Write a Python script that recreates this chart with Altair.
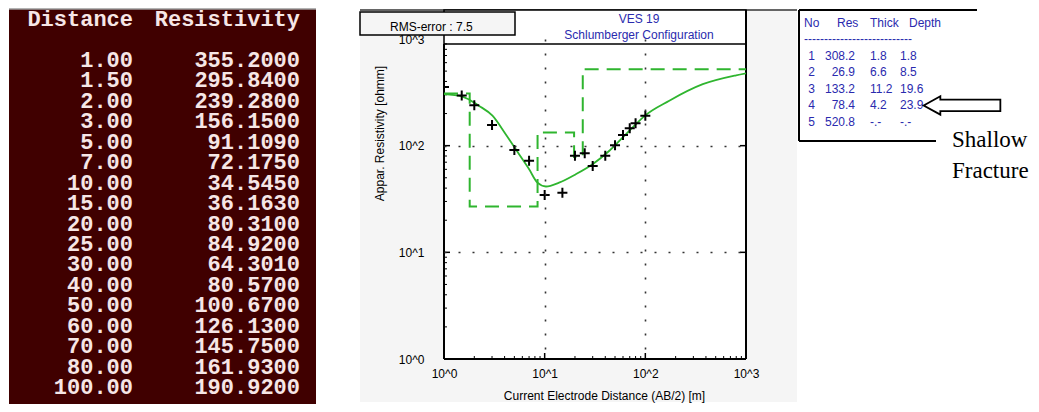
import altair as alt
import pandas as pd

# ---------------- data ----------------
distance = [1.0, 1.5, 2.0, 3.0, 5.0, 7.0, 10.0, 15.0, 20.0, 25.0, 30.0, 40.0,
            50.0, 60.0, 70.0, 80.0, 100.0]
resistivity = [355.2, 295.84, 239.28, 156.15, 91.109, 72.175, 34.545, 36.163,
               80.31, 84.92, 64.301, 80.57, 100.67, 126.13, 145.75, 161.93, 190.92]

# fitted model curve
curve_x = [1.0, 1.52, 2.23, 3.03, 4.10, 5.57, 7.01, 8.48, 10.3, 13.9, 20.4, 29.9,
           43.9, 59.4, 80.7, 98.4, 173, 372, 797, 1000]
curve_y = [304, 289, 236, 191, 128, 83, 60, 45, 41.4, 45, 54, 67,
           89.6, 119, 159, 190, 264, 377, 457, 477]

# layered model
layer_no = [1, 2, 3, 4, 5]
layer_res = [308.2, 26.9, 133.2, 78.4, 520.8]
layer_thick = ["1.8", "6.6", "11.2", "4.2", "-.-"]
layer_depth = ["1.8", "8.5", "19.6", "23.9", "-.-"]
layer_depth_val = [1.8, 8.5, 19.6, 23.9]
fracture_layer = 4

rms_error = 7.5
axis_min, axis_max = 1, 1000
decades = [1, 10, 100, 1000]
inner_decades = [10, 100]
minor_ticks = [2, 3, 4, 5, 6, 7, 8, 9,
               20, 30, 40, 50, 60, 70, 80, 90,
               200, 300, 400, 500, 600, 700, 800, 900]

GREEN = "#2FB52F"
BLUE = "#2A2AAE"
SANS = "Liberation Sans"
T = -29  # top of the panels, relative to the plot area's top

one = pd.DataFrame({"k": [0]})

# ---------------- panel A : console table ----------------
n = len(distance)
tab = pd.DataFrame({
    "row": list(range(n)) * 2 + [-2, -2],
    "col": [0] * n + [1] * n + [0, 1],
    "txt": [f"{d:.2f}" for d in distance] + [f"{r:.4f}" for r in resistivity]
           + ["Distance", "Resistivity"],
})
a_bg = alt.Chart(one).mark_rect(fill="#400000").encode(
    x=alt.value(0), x2=alt.value(307), y=alt.value(T - 1), y2=alt.value(365))
a_top = alt.Chart(one).mark_rule(color="#9A9A9A", strokeWidth=1.5).encode(
    x=alt.value(0), x2=alt.value(307), y=alt.value(T - 1))
a_txt = alt.Chart(tab).mark_text(
    font="Liberation Mono", fontSize=22, fontWeight="bold", fill="#F6E6E6",
    align="right", baseline="middle").encode(
    x=alt.X("col:Q", scale=alt.Scale(domain=[0, 1], range=[124, 291]), axis=None),
    y=alt.Y("row:Q", scale=alt.Scale(domain=[0, 16], range=[21, 348]), axis=None),
    text="txt:N")
A = alt.layer(a_bg, a_top, a_txt).properties(width=350, height=320)

# ---------------- panel B : sounding curve ----------------
W, H = 302, 320
xs = alt.Scale(type="log", domain=[axis_min, axis_max], nice=False)
ys = alt.Scale(type="log", domain=[axis_min, axis_max], nice=False)
lab = "'10^' + round(log(datum.value) / LN10)"
grid_op = {"condition": {"test": "datum.value == 1 || datum.value == 1000", "value": 0}, "value": 1}
xaxis = alt.Axis(values=decades, labelExpr=lab, grid=True, gridDash=[2, 12],
                 gridColor="#333333", gridWidth=1.6, gridOpacity=grid_op,
                 ticks=False, domain=False,
                 labelFont=SANS, labelFontSize=12, labelColor="#000000",
                 labelPadding=9, labelFlush=False, labelOverlap=False,
                 title="Current Electrode Distance (AB/2) [m]", titleFont=SANS,
                 titleFontSize=12, titleFontWeight="normal", titleColor="#000000",
                 titleX=160, titleY=36, titleAlign="center", titleBaseline="middle",
                 zindex=1)
yaxis = alt.Axis(values=decades, labelExpr=lab, grid=True, gridDash=[2, 12],
                 gridColor="#333333", gridWidth=1.6, gridOpacity=grid_op,
                 ticks=False, domain=False,
                 labelFont=SANS, labelFontSize=12, labelColor="#000000",
                 labelPadding=20, labelOverlap=False,
                 title="Appar. Resistivity [ohmm]", titleFont=SANS,
                 titleFontSize=12, titleFontWeight="normal", titleColor="#000000",
                 titleX=-65, titleY=94, titleAngle=270, titleAlign="center",
                 titleBaseline="middle", zindex=1)

d = alt.Chart(one)
gray = d.mark_rect(fill="#F5F5F5").encode(
    x=alt.value(-84), x2=alt.value(353), y=alt.value(T), y2=alt.value(363))
white = d.mark_rect(fill="white").encode(
    x=alt.value(0), x2=alt.value(W), y=alt.value(0), y2=alt.value(H))
titlebox = d.mark_rect(fill="white", stroke="black", strokeWidth=1.5).encode(
    x=alt.value(0), x2=alt.value(W), y=alt.value(T), y2=alt.value(5))
toprule = d.mark_rule(color="#333333", strokeWidth=1.5).encode(
    x=alt.value(-84), x2=alt.value(353), y=alt.value(T))
left = d.mark_rule(color="black", strokeWidth=2).encode(
    x=alt.value(0), y=alt.value(5), y2=alt.value(H))
right = d.mark_rule(color="black", strokeWidth=2).encode(
    x=alt.value(W), y=alt.value(T), y2=alt.value(H))
bottom = d.mark_rule(color="black", strokeWidth=2).encode(
    x=alt.value(0), x2=alt.value(W), y=alt.value(H))
rmsbox = d.mark_rect(fill="#F5F5F5", stroke="black", strokeWidth=1.5).encode(
    x=alt.value(-84), x2=alt.value(71), y=alt.value(-27), y2=alt.value(-4))
rmstxt = d.mark_text(font=SANS, fontSize=12, color="black", align="left",
                     baseline="middle").encode(
    x=alt.value(-54), y=alt.value(-12), text=alt.value(f"RMS-error :  {rms_error}"))
ves = d.mark_text(font=SANS, fontSize=12, color=BLUE, align="center",
                  baseline="middle").encode(
    x=alt.value(195), y=alt.value(-20), text=alt.value("VES 19"))
conf = d.mark_text(font=SANS, fontSize=12, color=BLUE, align="center",
                   baseline="middle").encode(
    x=alt.value(195), y=alt.value(-4), text=alt.value("Schlumberger Configuration"))

# inward minor / major ticks
minor_df = pd.DataFrame({"v": minor_ticks})
major_df = pd.DataFrame({"v": inner_decades})
tick_x_minor = alt.Chart(minor_df).mark_rule(color="black", strokeWidth=1).encode(
    x=alt.X("v:Q", scale=xs, axis=xaxis), y=alt.value(H - 3), y2=alt.value(H))
tick_y_minor = alt.Chart(minor_df).mark_rule(color="black", strokeWidth=1).encode(
    y=alt.Y("v:Q", scale=ys, axis=yaxis), x=alt.value(0), x2=alt.value(3))
tick_x_major = alt.Chart(major_df).mark_rule(color="black", strokeWidth=1.5).encode(
    x=alt.X("v:Q", scale=xs, axis=xaxis), y=alt.value(H - 6), y2=alt.value(H))
tick_y_major = alt.Chart(major_df).mark_rule(color="black", strokeWidth=1.5).encode(
    y=alt.Y("v:Q", scale=ys, axis=yaxis), x=alt.value(0), x2=alt.value(6))
tick_r_major = alt.Chart(major_df).mark_rule(color="black", strokeWidth=1.5).encode(
    y=alt.Y("v:Q", scale=ys, axis=yaxis), x=alt.value(W - 6), x2=alt.value(W))

step_df = pd.DataFrame({"x": [axis_min] + layer_depth_val + [axis_max],
                        "y": layer_res + [layer_res[-1]]})
step = alt.Chart(step_df).mark_line(
    interpolate="step-after", color=GREEN, strokeWidth=2, strokeDash=[14, 8],
    clip=True).encode(x=alt.X("x:Q", scale=xs, axis=xaxis),
                      y=alt.Y("y:Q", scale=ys, axis=yaxis))
curve_df = pd.DataFrame({"x": curve_x, "y": curve_y})
curve = alt.Chart(curve_df).mark_line(
    interpolate="monotone", color=GREEN, strokeWidth=1.8, clip=True).encode(
    x=alt.X("x:Q", scale=xs, axis=xaxis), y=alt.Y("y:Q", scale=ys, axis=yaxis))
field_df = pd.DataFrame({"x": distance, "y": resistivity})
pts = alt.Chart(field_df).mark_point(
    shape="M -1 0 L 1 0 M 0 -1 L 0 1", size=100, filled=False, stroke="black",
    strokeWidth=2, opacity=1, clip=True).encode(
    x=alt.X("x:Q", scale=xs, axis=xaxis), y=alt.Y("y:Q", scale=ys, axis=yaxis))

B = alt.layer(gray, toprule, white, titlebox, left, right, bottom, rmsbox, rmstxt,
              ves, conf, tick_x_minor, tick_y_minor, tick_x_major, tick_y_major,
              tick_r_major, step, curve, pts).properties(width=W, height=H)

# ---------------- panel C : layer table ----------------
lay = pd.DataFrame({
    "row": [i + 1 for i in layer_no],
    "no": [str(v) for v in layer_no],
    "res": [f"{v:.1f}" for v in layer_res],
    "thick": layer_thick,
    "depth": layer_depth,
})
rsc = alt.Scale(domain=[0, 6], range=[-16.5, 83])
c = alt.Chart(lay)
txt = dict(font=SANS, fontSize=12, color=BLUE, baseline="middle")
c_no = c.mark_text(align="center", **txt).encode(
    x=alt.value(12.5), y=alt.Y("row:Q", scale=rsc, axis=None), text="no:N")
c_res = c.mark_text(align="right", **txt).encode(
    x=alt.value(56), y=alt.Y("row:Q", scale=rsc, axis=None), text="res:N")
c_th = c.mark_text(align="left", **txt).encode(
    x=alt.value(71), y=alt.Y("row:Q", scale=rsc, axis=None), text="thick:N")
c_dp = c.mark_text(align="left", **txt).encode(
    x=alt.value(101), y=alt.Y("row:Q", scale=rsc, axis=None), text="depth:N")

hdr_df = pd.DataFrame({"row": [0]})
hc = alt.Chart(hdr_df)
heads = []
for word, xp in [("No", 5), ("Res", 38), ("Thick", 71), ("Depth", 110)]:
    heads.append(hc.mark_text(align="left", **txt).encode(
        x=alt.value(xp), y=alt.Y("row:Q", scale=rsc, axis=None), text=alt.value(word)))
dash_df = pd.DataFrame({"row": [1]})
dashes = alt.Chart(dash_df).mark_text(align="left", **txt).encode(
    x=alt.value(5), y=alt.Y("row:Q", scale=rsc, axis=None), text=alt.value("-" * 27))

e = alt.Chart(one)
c_top = e.mark_rule(color="black", strokeWidth=2).encode(
    x=alt.value(0), x2=alt.value(178), y=alt.value(T))
c_left = e.mark_rule(color="black", strokeWidth=2).encode(
    x=alt.value(0), y=alt.value(T), y2=alt.value(102))
c_bot = e.mark_rule(color="black", strokeWidth=2).encode(
    x=alt.value(0), x2=alt.value(137), y=alt.value(102))

arrow_df = lay[lay["row"] == fracture_layer + 1]
arrow = alt.Chart(arrow_df).mark_point(
    shape="M -1 0 L -0.565 -0.24 L -0.565 -0.151 L 1 -0.151 L 1 0.151 L -0.565 0.151 L -0.565 0.24 Z",
    size=5883, filled=True, fill="white", stroke="black", strokeWidth=1.8,
    opacity=1).encode(x=alt.value(163), y=alt.Y("row:Q", scale=rsc, axis=None))
sh1 = e.mark_text(font="Liberation Serif", fontSize=23, color="black",
                  align="left", baseline="alphabetic").encode(
    x=alt.value(153), y=alt.value(108), text=alt.value("Shallow"))
sh2 = e.mark_text(font="Liberation Serif", fontSize=23, color="black",
                  align="left", baseline="alphabetic").encode(
    x=alt.value(153), y=alt.value(138.5), text=alt.value("Fracture"))

C = alt.layer(c_top, c_left, c_bot, *heads, dashes, c_no, c_res, c_th, c_dp,
              arrow, sh1, sh2).properties(width=178, height=132)

chart = alt.hconcat(A, B, C, spacing=0).properties(
    padding=0, background="white").configure_view(strokeWidth=0)

chart.save("out.html", embed_options={"renderer": "svg", "actions": False})
